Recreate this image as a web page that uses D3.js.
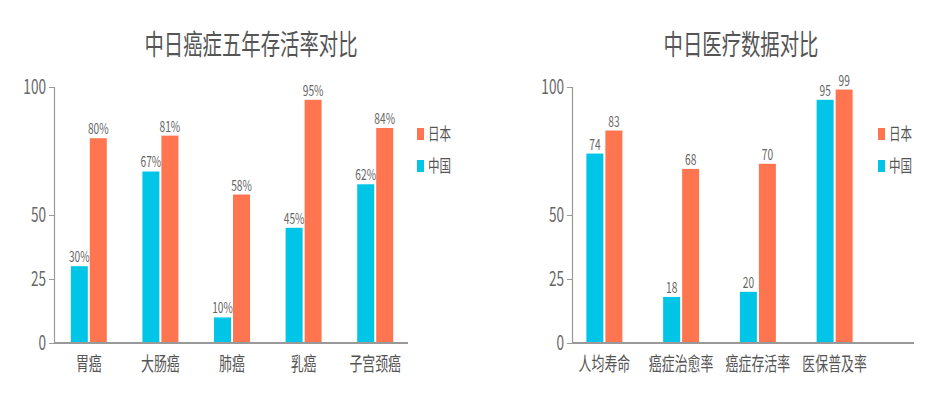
<!DOCTYPE html>
<html>
<head>
<meta charset="utf-8">
<script src="https://d3js.org/d3.v7.min.js"></script>
<style>
  body { margin: 0; background: #fff; }
  text { font-family: "Noto Sans CJK SC", "Noto Sans", sans-serif; }
</style>
</head>
<body>
<div id="chart"></div>
<script>
// left chart data
const cancerTypes = ['胃癌', '大肠癌', '肺癌', '乳癌', '子宫颈癌'];
const cancerChina = [30, 67, 10, 45, 62];
const cancerJapan = [80, 81, 58, 95, 84];

// right chart data
const medItems = ['人均寿命', '癌症治愈率', '癌症存活率', '医保普及率'];
const medChina = [74, 18, 20, 95];
const medJapan = [83, 68, 70, 99];

const yTicks = [0, 25, 50, 100];
const seriesNames = ['日本', '中国'];

const width = 939, height = 396;
const colJapan = '#ff7550', colChina = '#00c5e6';
const SX = 0.68;

const svg = d3.select('#chart').append('svg')
  .attr('width', width)
  .attr('height', height);

function label(g, x, y, str, size, anchor, fill) {
  return g.append('text')
    .attr('transform', `translate(${x},${y}) scale(${SX},1)`)
    .attr('text-anchor', anchor)
    .attr('font-size', size)
    .attr('fill', fill)
    .text(str);
}

function drawPanel(opt) {
  const g = svg.append('g');
  const y = d3.scaleLinear().domain([0, 100]).range([343, 87]);
  const x = d3.scaleBand().domain(opt.cats).range(opt.bandRange);
  const bw = 17, gap = 2;

  label(g, opt.titleX, 55, opt.title, 28.5, 'middle', '#555');

  // y axis
  const ax = g.append('g')
    .attr('transform', `translate(${opt.axisX},0)`)
    .call(d3.axisLeft(y).tickValues(yTicks).tickSize(5).tickFormat(''));
  ax.select('.domain').attr('stroke', '#999').attr('stroke-width', 1.2);
  ax.selectAll('.tick line').attr('stroke', '#999');
  yTicks.forEach(t => label(g, opt.axisX - 8, y(t) + 7, t, 20, 'end', '#666'));

  // bars
  opt.cats.forEach((c, i) => {
    const cx = x(c) + x.bandwidth() / 2;
    const pairs = [[opt.china[i], colChina, cx - gap / 2 - bw], [opt.japan[i], colJapan, cx + gap / 2]];
    pairs.forEach(([v, col, bx]) => {
      g.append('rect')
        .attr('x', bx).attr('y', y(v))
        .attr('width', bw).attr('height', y(0) - y(v))
        .attr('fill', col);
      label(g, bx + bw / 2, y(v) - 4, v + opt.suffix, 15, 'middle', '#666');
    });
    label(g, cx, 371, c, 19, 'middle', '#555');
  });

  // x axis
  g.append('line')
    .attr('x1', opt.axisX).attr('x2', opt.axisEnd)
    .attr('y1', y(0)).attr('y2', y(0))
    .attr('stroke', '#999').attr('stroke-width', 2);

  // legend
  const legCols = [colJapan, colChina];
  seriesNames.forEach((n, i) => {
    const ly = 134 + i * 32;
    g.append('rect')
      .attr('x', opt.legX).attr('y', ly - 6)
      .attr('width', 7).attr('height', 12)
      .attr('fill', legCols[i]);
    label(g, opt.legX + 11, ly + 6, n, 17, 'start', '#555');
  });
}

drawPanel({
  title: '中日癌症五年存活率对比', titleX: 251,
  cats: cancerTypes, china: cancerChina, japan: cancerJapan, suffix: '%',
  axisX: 54, axisEnd: 408, bandRange: [53, 411], legX: 417
});

drawPanel({
  title: '中日医疗数据对比', titleX: 741,
  cats: medItems, china: medChina, japan: medJapan, suffix: '',
  axisX: 572, axisEnd: 914, bandRange: [566, 873], legX: 878
});
</script>
</body>
</html>
